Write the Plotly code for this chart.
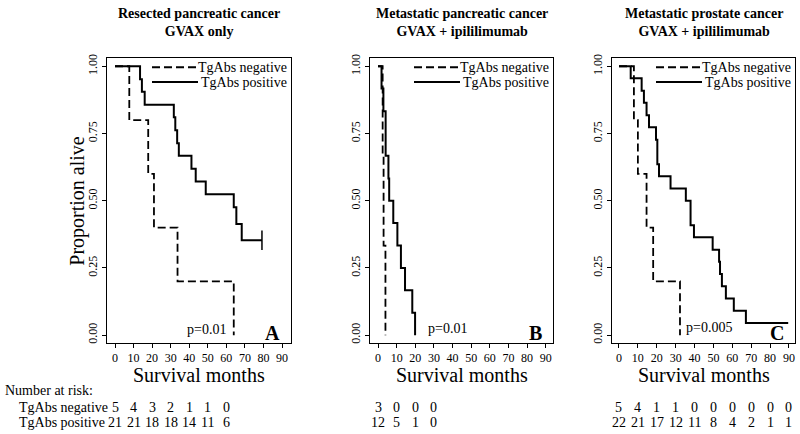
import plotly.graph_objects as go

# ---------------- data ----------------
# Panel A: Resected pancreatic cancer, GVAX only
A_neg_t = [7.7, 17.9, 21.0, 33.7, 64.0]
A_neg_s = [0.80, 0.60, 0.40, 0.20, 0.00]
A_pos_t = [13.5, 14.5, 16.0, 31.7, 32.5, 33.5, 34.4, 41.2, 43.5, 48.9, 64.0, 65.4, 68.3]
A_pos_s = [0.952, 0.905, 0.857, 0.810, 0.762, 0.714, 0.667, 0.619, 0.571, 0.524, 0.476, 0.413, 0.353]
A_pos_end = 79.2  # censored

# Panel B: Metastatic pancreatic cancer, GVAX + ipililimumab
B_neg_t = [2.5, 3.0, 4.0]
B_neg_s = [0.667, 0.333, 0.0]
B_pos_t = [1.9, 2.9, 4.1, 5.6, 6.0, 8.2, 10.4, 12.3, 14.5, 18.4, 19.9]
B_pos_s = [0.917, 0.833, 0.667, 0.583, 0.5, 0.417, 0.333, 0.25, 0.167, 0.083, 0.0]

# Panel C: Metastatic prostate cancer, GVAX + ipililimumab
C_neg_t = [7.9, 10.0, 14.6, 18.1, 32.3]
C_neg_s = [0.8, 0.6, 0.4, 0.2, 0.0]
C_pos_t = [6.2, 12.0, 13.2, 14.6, 15.9, 19.6, 20.3, 21.2, 27.3, 35.4, 37.9, 39.7,
           49.6, 53.0, 53.5, 54.5, 56.6, 60.8, 67.2]
C_pos_s = [0.955, 0.909, 0.864, 0.818, 0.773, 0.727, 0.636, 0.591, 0.545, 0.5, 0.409, 0.364,
           0.318, 0.273, 0.227, 0.182, 0.136, 0.091, 0.045]
C_pos_end = 89.6

# Number at risk
A_risk_t = [0, 10, 20, 30, 40, 50, 60]
A_risk_neg = [5, 4, 3, 2, 1, 1, 0]
A_risk_pos = [21, 21, 18, 18, 14, 11, 6]
B_risk_t = [0, 10, 20, 30]
B_risk_neg = [3, 0, 0, 0]
B_risk_pos = [12, 5, 1, 0]
C_risk_t = [0, 10, 20, 30, 40, 50, 60, 70, 80, 90]
C_risk_neg = [5, 4, 1, 1, 0, 0, 0, 0, 0, 0]
C_risk_pos = [22, 21, 17, 12, 11, 8, 4, 2, 1, 1]

titles = ["Resected pancreatic cancer<br>GVAX only",
          "Metastatic pancreatic cancer<br>GVAX + ipililimumab",
          "Metastatic prostate cancer<br>GVAX + ipililimumab"]
pvals = ["p=0.01", "p=0.01", "p=0.005"]
letters = ["A", "B", "C"]
x_ticks = [0, 10, 20, 30, 40, 50, 60, 70, 80, 90]
y_ticks = [0, 0.25, 0.5, 0.75, 1.0]
y_ticktext = ["0.00", "0.25", "0.50", "0.75", "1.00"]
legend_labels = ["TgAbs negative", "TgAbs positive"]

# ---------------- layout helpers ----------------
W, H = 800, 434
def px(x): return x / W
def py(y): return 1 - y / H

FONT = "Liberation Serif"
BOX_TOP, BOX_BOT = 55, 343
boxes = [(107, 291), (370, 553), (612, 795)]
xranges = [[-4.31, 94.85], [-4.29, 93.9], [-3.7, 93.2]]
yrange = [-0.0294, 1.0294]

fig = go.Figure()

def km_xy(t, s, end=None):
    x = [0] + list(t)
    y = [1.0] + list(s)
    if end is not None:
        x.append(end)
        y.append(s[-1])
    return x, y

curves = [
    (A_neg_t, A_neg_s, None, A_pos_t, A_pos_s, A_pos_end),
    (B_neg_t, B_neg_s, None, B_pos_t, B_pos_s, None),
    (C_neg_t, C_neg_s, None, C_pos_t, C_pos_s, C_pos_end),
]

for i, (nt, ns, ne, pt, ps, pe) in enumerate(curves):
    xa = "x" if i == 0 else f"x{i+1}"
    ya = "y" if i == 0 else f"y{i+1}"
    x, y = km_xy(nt, ns, ne)
    fig.add_trace(go.Scatter(x=x, y=y, mode="lines", line_shape="hv",
                             line=dict(color="black", width=1.8, dash="8px,4px"),
                             xaxis=xa, yaxis=ya, showlegend=False, hoverinfo="skip"))
    x, y = km_xy(pt, ps, pe)
    fig.add_trace(go.Scatter(x=x, y=y, mode="lines", line_shape="hv",
                             line=dict(color="black", width=2),
                             xaxis=xa, yaxis=ya, showlegend=False, hoverinfo="skip"))

# censor tick for panel A
fig.add_trace(go.Scatter(x=[A_pos_end], y=[A_pos_s[-1]], mode="markers",
                         marker=dict(symbol="line-ns", size=14,
                                     line=dict(color="black", width=1.5)),
                         xaxis="x", yaxis="y", showlegend=False, hoverinfo="skip"))

layout = dict(width=W, height=H, margin=dict(l=0, r=0, t=0, b=0),
              paper_bgcolor="white", plot_bgcolor="white",
              font=dict(family=FONT, color="black"))

for i, (l, r) in enumerate(boxes):
    sfx = "" if i == 0 else str(i + 1)
    layout["xaxis" + sfx] = dict(
        domain=[px(l), px(r)], range=xranges[i], anchor="y" + sfx,
        tickvals=x_ticks, ticks="outside", ticklen=4, tickcolor="black",
        showline=True, mirror=True, linecolor="black", linewidth=1,
        showgrid=False, zeroline=False, tickfont=dict(size=12, family=FONT, color="black"))
    layout["yaxis" + sfx] = dict(
        domain=[py(BOX_BOT), py(BOX_TOP)], range=yrange, anchor="x" + sfx,
        tickvals=y_ticks, ticktext=y_ticktext, tickangle=-90,
        ticks="outside", ticklen=4, tickcolor="black",
        showline=True, mirror=True, linecolor="black", linewidth=1,
        showgrid=False, zeroline=False, tickfont=dict(size=12, family=FONT, color="black"))

annotations = []
shapes = []

def ann(x, y, text, size=14, xanchor="center", yanchor="middle", **kw):
    d = dict(x=x, y=y, xref="paper", yref="paper", text=text, showarrow=False,
             xanchor=xanchor, yanchor=yanchor, font=dict(size=size, family=FONT, color="black"))
    d.update(kw)
    annotations.append(d)

for i, (l, r) in enumerate(boxes):
    cx = (l + r) / 2
    ann(px(cx), py(19), "<b>" + titles[i] + "</b>", size=14)
    ann(px(cx), py(375), "Survival months", size=20)
    # legend
    tr = r - 2
    for j, lab in enumerate(legend_labels):
        yy = 64 + 15 * j
        ann(px(tr), py(yy), lab, size=14, xanchor="right")
        shapes.append(dict(type="line", xref="paper", yref="paper",
                           x0=px(tr - 137), x1=px(tr - 91), y0=py(yy), y1=py(yy),
                           line=dict(color="black", width=1.8 if j == 0 else 2,
                                     dash="8px,4px" if j == 0 else "solid")))
    # letter
    ann(px(r - 9), py(333), "<b>" + letters[i] + "</b>", size=20, xanchor="right")

# p-values
ann(px(206), py(329), pvals[0], size=14)
ann(px(447.5), py(328), pvals[1], size=14)
ann(px(709), py(327), pvals[2], size=14)

# y-axis title
ann(px(78), py((BOX_TOP + BOX_BOT) / 2), "Proportion alive", size=20, textangle=-90)

# number at risk
ann(px(3), py(391), "Number at risk:", size=14, xanchor="left")
ann(px(17), py(408.5), legend_labels[0], size=14, xanchor="left")
ann(px(17), py(423.5), legend_labels[1], size=14, xanchor="left")

risk = [(A_risk_t, A_risk_neg, A_risk_pos), (B_risk_t, B_risk_neg, B_risk_pos),
        (C_risk_t, C_risk_neg, C_risk_pos)]
for i, (tt, rn, rp) in enumerate(risk):
    xr = "x" if i == 0 else f"x{i+1}"
    for t, n, p in zip(tt, rn, rp):
        for val, yy in ((n, 408.5), (p, 423.5)):
            annotations.append(dict(x=t, y=py(yy), xref=xr, yref="paper", text=str(val),
                                    showarrow=False, xanchor="center", yanchor="middle",
                                    font=dict(size=14, family=FONT, color="black")))

layout["annotations"] = annotations
layout["shapes"] = shapes
fig.update_layout(**layout)
fig.write_html("out.html",
               config={"displayModeBar": False},
               post_script="document.body.style.margin='0';document.body.style.overflow='hidden';")
